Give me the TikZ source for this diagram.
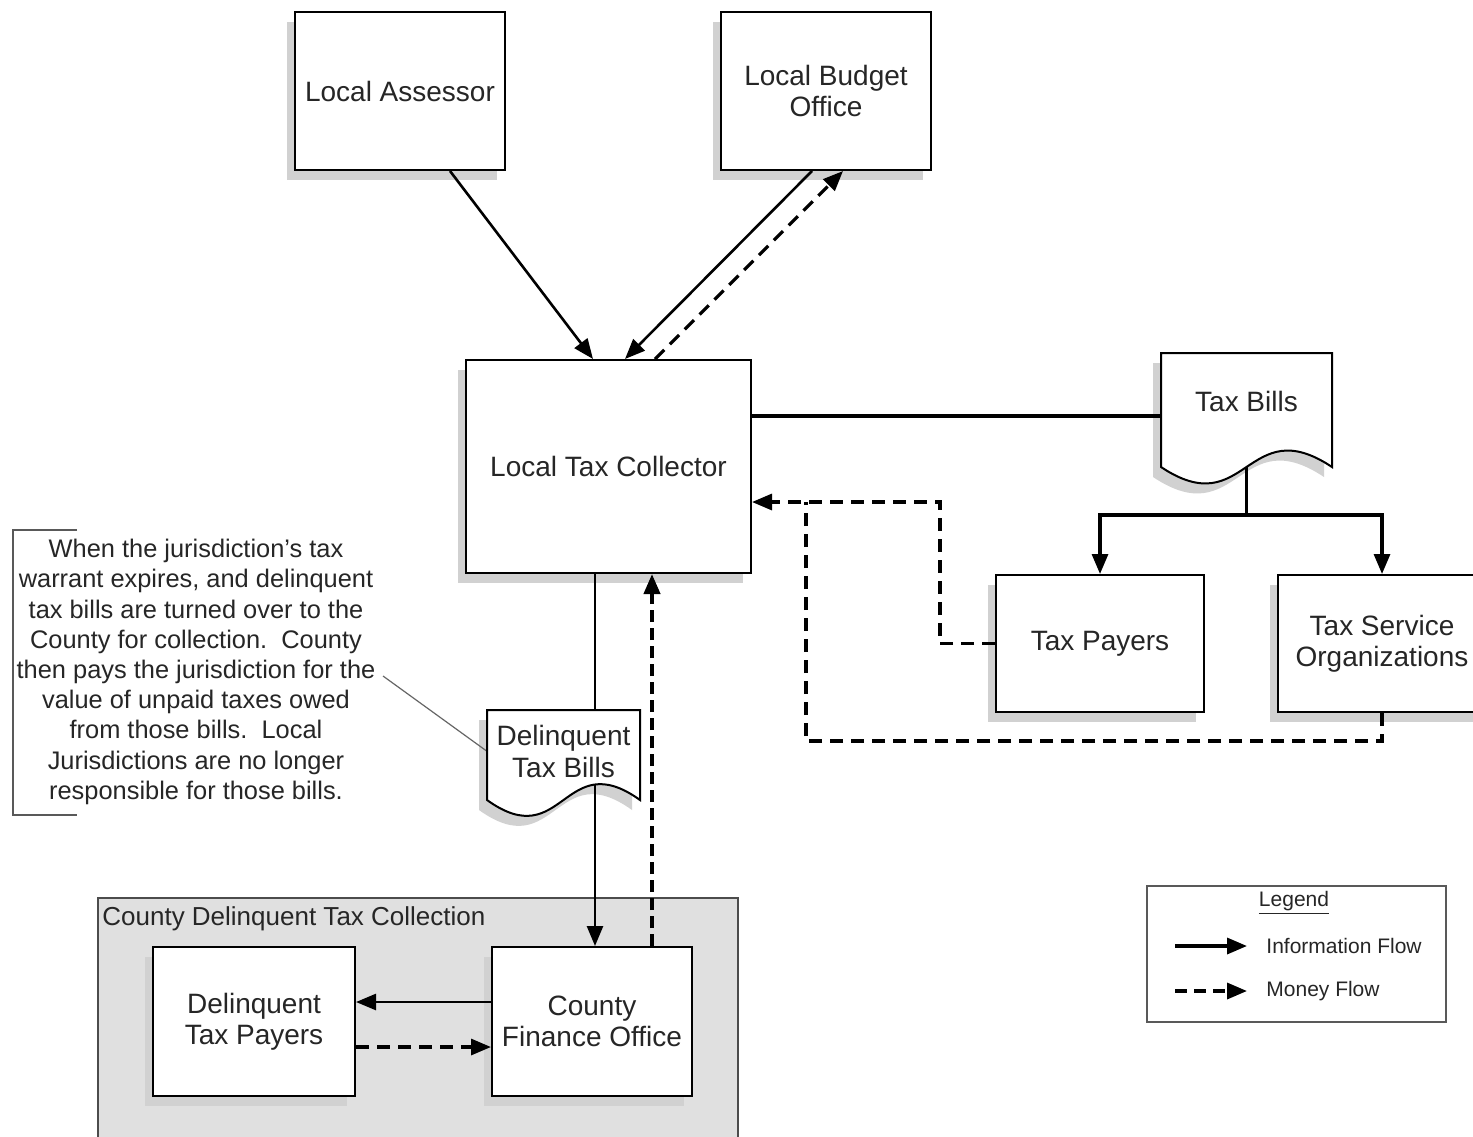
\documentclass[tikz,border=0pt]{standalone}
\usepackage{fontspec}
\setmainfont{Liberation Sans}
\usetikzlibrary{arrows.meta,shadows}
\pgfdeclarelayer{fg}
\pgfsetlayers{main,fg}
\begin{document}
\begin{tikzpicture}[x=0.5pt,y=-0.5pt,
  >={Triangle[length=10pt,width=8pt]},
  box/.style={draw=black, line width=1pt, fill=white, align=center,
    font=\fontsize{14}{15.5}\selectfont, text=black!85, inner sep=0pt,
    drop shadow={shadow xshift=-4pt, shadow yshift=-5pt, fill=black!18, opacity=1}},
  doctext/.style={draw=none, align=center, font=\fontsize{14}{16}\selectfont,
    text=black!85, inner sep=0pt},
  info/.style={line width=1.3pt, ->},
  money/.style={line width=1.6pt, dash pattern=on 6.5pt off 4pt, ->},
  legtext/.style={anchor=west, font=\fontsize{10.5}{12}\selectfont, text=black!85, inner sep=0pt}]

\useasboundingbox (0,0) rectangle (1473,1136);
\fill[white] (0,0) rectangle (1473,1136);

% county group
\node[draw=black!70, line width=1pt, fill=black!12, minimum width=320pt,
  minimum height=126pt, inner sep=0pt] (grp) at (418,1024) {};
\node[anchor=west, font=\fontsize{13}{15}\selectfont, text=black!85, inner sep=0pt]
  (grpt) at (102,919) {County Delinquent Tax Collection};

% boxes
\node[box, minimum width=105pt, minimum height=79pt] (la) at (400,91) {Local Assessor};
\node[box, minimum width=105pt, minimum height=79pt] (lbo) at (826,91) {\raisebox{1.5pt}{\parbox{100pt}{\centering Local Budget\\Office}}};
\node[box, minimum width=142.5pt, minimum height=106.5pt] (ltc) at (608.5,466.5) {Local Tax Collector};
\node[box, minimum width=104pt, minimum height=68.5pt] (tp) at (1100,643.5) {Tax Payers};
\node[box, minimum width=104pt, minimum height=68.5pt] (tso) at (1382,643.5) {Tax Service\\Organizations};
\node[box, minimum width=101pt, minimum height=74.5pt] (dtp) at (254,1021.5) {Delinquent\\Tax Payers};
\node[box, minimum width=100pt, minimum height=74.5pt] (cfo) at (592,1021.5) {County\\Finance Office};

% document text nodes (drawn on top)
\begin{pgfonlayer}{fg}
\node[doctext, minimum width=85.5pt, minimum height=57pt] (tb) at (1246.5,401) {Tax Bills};
\node[doctext, minimum width=76.5pt, minimum height=45pt] (dtb) at (563.5,751) {Delinquent\\Tax Bills};
\end{pgfonlayer}

% document shadows
\fill[black!18, xshift=-4pt, yshift=-5pt] (1161,353) -- (1332,353) -- (1332,467)
  .. controls (1246.5,410) and (1246.5,524) .. (1161,467) -- cycle;
\fill[black!18, xshift=-4pt, yshift=-5pt] (487,710) -- (640,710) -- (640,800)
  .. controls (563.5,745) and (563.5,855) .. (487,800) -- cycle;

% legend
\node[draw=black!65, line width=1pt, minimum width=149.5pt, minimum height=68pt, inner sep=0pt]
  (leg) at (1296.5,954) {};
\node[font=\fontsize{10.5}{12}\selectfont, text=black!85, inner sep=0pt] (legt) at (1294,903) {\underline{Legend}};
\coordinate (li1) at (1175,946);
\coordinate (li2) at (1247,946);
\coordinate (lm1) at (1175,991);
\coordinate (lm2) at (1247,991);
\draw[info, line width=1.7pt] (li1) -- (li2);
\draw[money, line width=1.7pt, dash pattern=on 6pt off 3.5pt] (lm1) -- (lm2);
\node[legtext] (lit) at (1266,946) {Information Flow};
\node[legtext] (lmt) at (1266,991) {Money Flow};

% annotation
\node[align=center, font=\fontsize{12.7}{15.1}\selectfont, text=black!85, inner sep=0pt] (note) at (196,672)
 {When the jurisdiction's tax\\
  warrant expires, and delinquent\\
  tax bills are turned over to the\\
  County for collection.\ \ County\\
  then pays the jurisdiction for the\\
  value of unpaid taxes owed\\
  from those bills.\ \ Local\\
  Jurisdictions are no longer\\
  responsible for those bills.};
\draw[black!65, line width=1pt] (77,530) -- (13,530) -- (13,815) -- (77,815);
\coordinate (ann) at (383,676);
\draw[black!60, line width=0.6pt] (ann) -- (dtb.west);

% connectors top
\draw[info] ([xshift=25pt]la.south) -- ([xshift=-7.75pt]ltc.north);
\draw[info] ([xshift=-7pt]lbo.south) -- ([xshift=8.25pt]ltc.north);
\draw[money] ([xshift=23.25pt]ltc.north) -- ([xshift=8.5pt]lbo.south);

% tax bills
\coordinate (tbw) at ([yshift=-7.5pt]tb.west);
\draw[line width=2pt] (tbw -| ltc.east) -- (tbw);
\coordinate (br) at (1246.5,515);
\draw[info, line width=1.6pt] (tb.south) -- (br) -| (tp.north);
\draw[info, line width=1.6pt] (br) -| (tso.north);

% money back to collector
\coordinate (ltcin) at ([yshift=-17.75pt]ltc.east);
\coordinate (jn) at (806,502);
\draw[money] (tp.west) -- ++(-55,0) |- (ltcin);
\draw[money, -] (tso.south) -- ++(0,28) -| (jn);

% delinquent chain
\coordinate (dl) at (595,0);
\draw[line width=1.2pt] (ltc.south -| dl) -- (dtb.center -| dl);
\draw[info] (dtb.center -| dl) -- (cfo.north -| dl);
\coordinate (cu) at ([xshift=30pt]cfo.north);
\draw[money, line width=2pt, dash pattern=on 6pt off 3pt] (cu) -- (cu |- ltc.south);

\draw[info] ([yshift=9.75pt]cfo.west) -- ([yshift=9.75pt]cfo.west -| dtp.east);
\draw[money] ([yshift=-12.75pt]dtp.east) -- ([yshift=-12.75pt]dtp.east -| cfo.west);

% document shapes
\filldraw[fill=white, draw=black, line width=1pt] (1161,353) -- (1332,353) -- (1332,467)
  .. controls (1246.5,410) and (1246.5,524) .. (1161,467) -- cycle;
\filldraw[fill=white, draw=black, line width=1pt] (487,710) -- (640,710) -- (640,800)
  .. controls (563.5,745) and (563.5,855) .. (487,800) -- cycle;

\end{tikzpicture}
\end{document}
